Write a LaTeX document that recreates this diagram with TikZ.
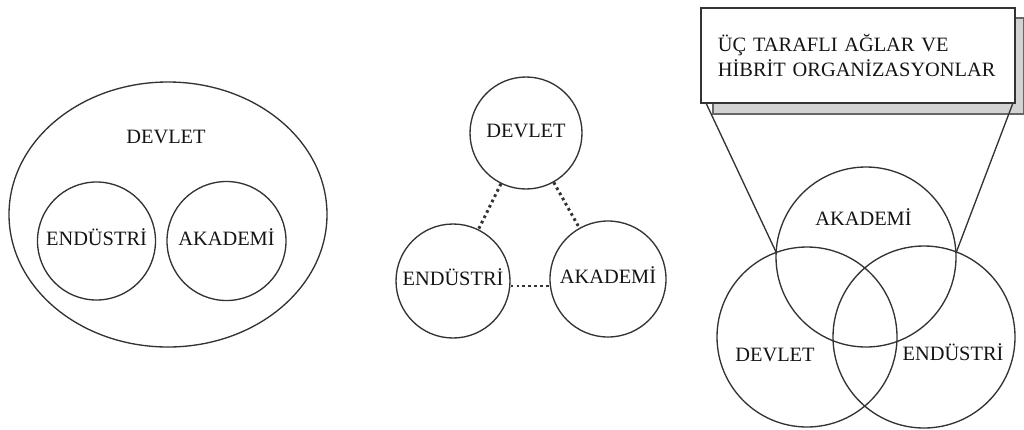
\documentclass[tikz,border=0pt]{standalone}
\usepackage{fontspec}
\setmainfont{Liberation Serif}
\usetikzlibrary{shapes.geometric,calc}
\definecolor{ink}{HTML}{333333}
\definecolor{txt}{HTML}{141414}
\definecolor{shade}{HTML}{D2D2D2}
\begin{document}
\begin{tikzpicture}[x=0.025cm,y=-0.025cm,
  ln/.style={draw=ink, line width=0.95pt},
  lbl/.style={font=\fontsize{14.5}{17.5}\selectfont, text=txt, inner sep=0pt},
  circ/.style={ln, lbl, circle, text height=0.66em, text depth=0pt, minimum size=#1*0.025cm},
  dots/.style={draw=ink, line width=2.1pt, dash pattern=on 1.9pt off 2.3pt},
  shadowst/.style={draw=black!60, fill=shade, line width=0.9pt},
  boxst/.style={ln, fill=white, lbl, align=left, text width=7cm, inner xsep=0.425cm,
                minimum height=95*0.025cm},
]
\useasboundingbox (0,0) rectangle (1024,429);

% ---- left: nested
\node[ln, ellipse, inner sep=0pt, minimum width=318*0.025cm, minimum height=265*0.025cm] (gov1) at (168,214.5) {};
\node[lbl, anchor=base] (gov1t) at (166,143) {DEVLET};
\node[circ=118] (ind1) at (96.5,241) {ENDÜSTRİ};
\node[circ=119] (aca1) at (226.5,241) {AKADEMİ};

% ---- middle: laissez-faire
\node[circ=112] (gov2) at (526,133) {DEVLET};
\node[circ=114] (ind2) at (453,281) {ENDÜSTRİ};
\node[circ=116] (aca2) at (608,279) {AKADEMİ};
\draw[dots] (gov2) -- (ind2);
\draw[dots] (gov2) -- (aca2);
\draw[dots] ($(ind2.east)+(0,5)$) -- ($(aca2.west)+(0,7)$);

% ---- right: triple helix
\node[shadowst, minimum width=310.5*0.025cm, minimum height=96*0.025cm, inner sep=0pt] (shadow) at (868.25,66) {};
\node[circ=180] (aca3) at (866,257) {};
\node[circ=180] (gov3) at (807,337) {};
\node[circ=182] (ind3) at (924,337) {};
\node[lbl, anchor=base] (aca3t) at (863.5,225) {AKADEMİ};
\node[lbl, anchor=base] (gov3t) at (775,361) {DEVLET};
\node[lbl, anchor=base] (ind3t) at (953,360) {ENDÜSTRİ};
\coordinate (lt) at (776,252);
\coordinate (rt) at (956,253);
\node[boxst] (box) at (858,55.5) {ÜÇ TARAFLI AĞLAR VE\\HİBRİT ORGANİZASYONLAR};
\draw[ln] ([xshift=0.15cm]box.south west) -- (lt);
\draw[ln] ([xshift=-0.075cm]box.south east) -- (rt);
\end{tikzpicture}
\end{document}
